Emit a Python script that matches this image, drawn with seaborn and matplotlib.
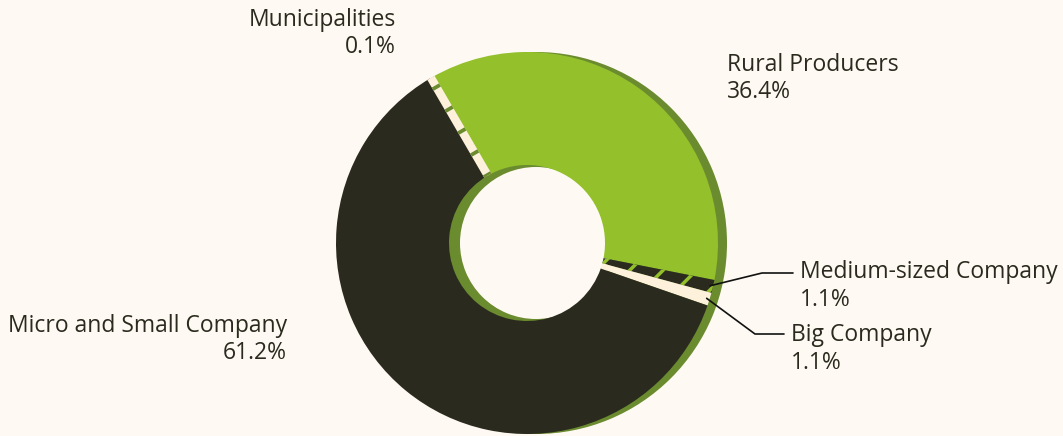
import numpy as np
import matplotlib
matplotlib.use("Agg")
import matplotlib.pyplot as plt
import seaborn as sns

# ---- data ----
categories = ["Rural Producers", "Medium-sized Company", "Big Company",
              "Micro and Small Company", "Municipalities"]
shares = [36.4, 1.1, 1.1, 61.2, 0.1]

# ---- style ----
BG = "#fefaf3"
GREEN = "#93c02b"
SHADOW = "#6b8b2f"
DARK = "#2a2a1e"
CREAM = "#fdf1dc"
slice_colors = [GREEN, DARK, CREAM, DARK, CREAM]

sns.set_theme(style="white", rc={"figure.facecolor": BG, "axes.facecolor": BG,
                                 "hatch.linewidth": 2.5})
plt.rcParams["font.family"] = ["Open Sans", "DejaVu Sans"]

W, H = 1063, 436
fig = plt.figure(figsize=(W / 100, H / 100), dpi=100)
ax = fig.add_axes([0, 0, 1, 1])

cx, cy = 527, H - 243
R = 191
RING = 113

# shadow ring
ax.pie([1], colors=[SHADOW], center=(cx + 9, cy), radius=R,
       wedgeprops=dict(width=R - 76, linewidth=0), startangle=90)

wedges, _ = ax.pie(shares, colors=slice_colors, center=(cx, cy), radius=R,
                   startangle=120, counterclock=False,
                   wedgeprops=dict(width=RING, linewidth=0))

# hatch for medium-sized company
wedges[1].set_edgecolor(GREEN)
wedges[1].set_linewidth(0)
wedges[1].set_hatch("/")


def polar(theta_deg, r):
    t = np.deg2rad(theta_deg)
    return cx + r * np.cos(t), cy + r * np.sin(t)


# municipalities strip (tiny slice drawn as striped band along its angle)
w = wedges[4]
mid = (w.theta1 + w.theta2) / 2
x0, y0 = polar(mid, R)
x1, y1 = polar(mid, R - RING)
ax.plot([x0, x1], [y0, y1], color=CREAM, lw=6, solid_capstyle="butt", zorder=3)
ax.plot([x0, x1], [y0, y1], color=SHADOW, lw=6, dash_capstyle="butt",
        linestyle=(2.0, (0.45, 2.6)), zorder=4)

# labels
label_layout = {
    "Rural Producers": (727, 78.5, "left"),
    "Medium-sized Company": (800, 286, "left"),
    "Big Company": (791, 349, "left"),
    "Micro and Small Company": (287, 339.5, "right"),
    "Municipalities": (396, 33.5, "right"),
}
for name, val in zip(categories, shares):
    x, y, ha = label_layout[name]
    ax.text(x, H - y, f"{name}\n{val:.1f}%", ha=ha, va="center",
            multialignment=ha, fontsize=16.5, color=DARK, linespacing=1.18, zorder=5)

# leader lines for small slices
leaders = {1: [(762, 273), (793, 273)], 2: [(755, 334), (784, 334)]}
for idx, pts in leaders.items():
    w = wedges[idx]
    mid = (w.theta1 + w.theta2) / 2
    sx, sy = polar(mid, R - 3)
    xs = [sx] + [p[0] for p in pts]
    ys = [sy] + [H - p[1] for p in pts]
    ax.plot(xs, ys, color="#111111", lw=1.2, zorder=5)

ax.set_xlim(0, W)
ax.set_ylim(0, H)
ax.set_aspect("equal")
ax.axis("off")

fig.savefig("out.png", dpi=100, facecolor=BG)
